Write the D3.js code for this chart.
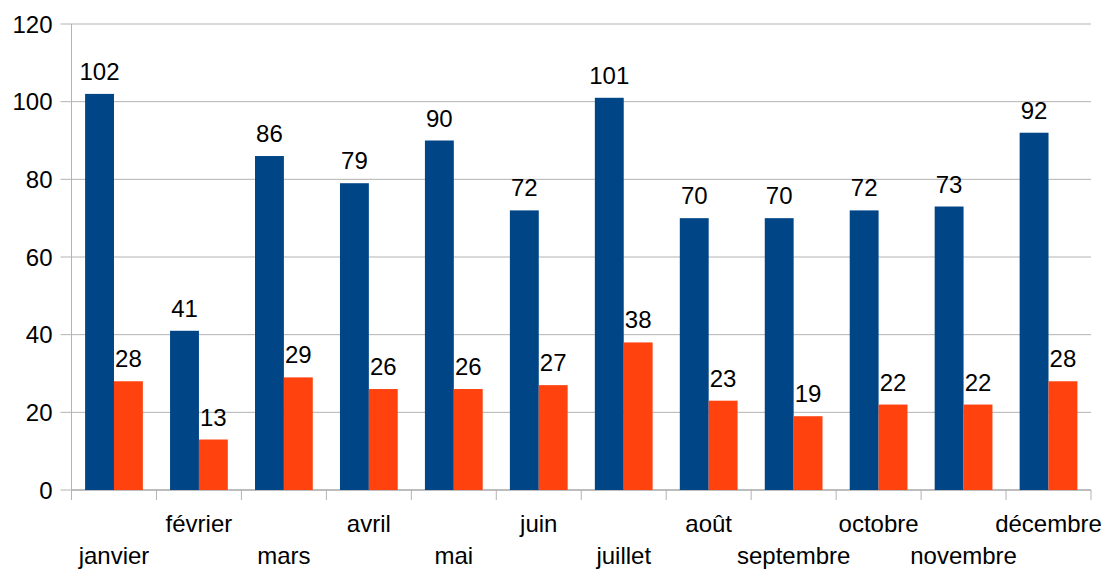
<!DOCTYPE html>
<html>
<head>
<meta charset="utf-8">
<script src="https://cdn.jsdelivr.net/npm/d3@7"></script>
<style>
body { margin: 0; background: #fff; }
svg { font-family: "Liberation Sans", Arial, sans-serif; }
</style>
</head>
<body>
<svg width="1108" height="569"></svg>
<script>
// Data
var months = ["janvier", "février", "mars", "avril", "mai", "juin", "juillet", "août", "septembre", "octobre", "novembre", "décembre"]
var seriesA = [102, 41, 86, 79, 90, 72, 101, 70, 70, 72, 73, 92]
var seriesB = [28, 13, 29, 26, 26, 27, 38, 23, 19, 22, 22, 28]
var yTicks = [0, 20, 40, 60, 80, 100, 120]
var colors = ["#004586", "#ff420e"]

var svg = d3.select("svg"),
	margin = { top: 24, right: 17, bottom: 79, left: 71.5 },
	width = +svg.attr("width") - margin.left - margin.right,
	height = +svg.attr("height") - margin.top - margin.bottom

var x = d3.scaleBand().domain(months).range([0, width]).paddingInner(0.32).paddingOuter(0.16),
	y = d3.scaleLinear().domain([0, 120]).range([height, 0])

var fontSize = 24

var g = svg.append("g")
	.attr("transform", "translate(" + margin.left + "," + margin.top + ")")

// horizontal grid lines
g.append("g")
	.selectAll("line")
	.data(yTicks)
	.enter().append("line")
		.attr("x1", -11)
		.attr("x2", width)
		.attr("y1", function(d) { return y(d) })
		.attr("y2", function(d) { return y(d) })
		.attr("stroke", "#b3b3b3")
		.attr("stroke-width", 1)

// y axis labels
g.append("g")
	.selectAll("text")
	.data(yTicks)
	.enter().append("text")
		.attr("x", -19)
		.attr("y", function(d) { return y(d) })
		.attr("dy", "0.36em")
		.attr("text-anchor", "end")
		.attr("font-size", fontSize)
		.attr("fill", "#000")
		.text(function(d) { return d })

// vertical axis line
g.append("line")
	.attr("x1", 0).attr("x2", 0)
	.attr("y1", 0).attr("y2", height + 10)
	.attr("stroke", "#b3b3b3")

// category separators on the x axis
g.append("g")
	.selectAll("line")
	.data(d3.range(months.length + 1))
	.enter().append("line")
		.attr("x1", function(i) { return i * width / months.length })
		.attr("x2", function(i) { return i * width / months.length })
		.attr("y1", height)
		.attr("y2", height + 10)
		.attr("stroke", "#b3b3b3")

g.append("line")
	.attr("x1", 0).attr("x2", width)
	.attr("y1", height).attr("y2", height)
	.attr("stroke", "#b3b3b3")
	.attr("stroke-width", 1.5)

var sub = d3.scaleBand().domain([0, 1]).range([0, x.bandwidth()])

var rows = months.map(function(m, i) { return { month: m, values: [seriesA[i], seriesB[i]] } })

var groups = g.selectAll(".grp")
	.data(rows)
	.enter().append("g")
		.attr("class", "grp")
		.attr("transform", function(d) { return "translate(" + x(d.month) + ",0)" })

groups.selectAll("rect")
	.data(function(d) { return d.values })
	.enter().append("rect")
		.attr("x", function(d, i) { return sub(i) })
		.attr("y", function(d) { return y(d) })
		.attr("width", sub.bandwidth())
		.attr("height", function(d) { return height - y(d) })
		.attr("fill", function(d, i) { return colors[i] })

groups.selectAll("text")
	.data(function(d) { return d.values })
	.enter().append("text")
		.attr("x", function(d, i) { return sub(i) + sub.bandwidth() / 2 })
		.attr("y", function(d) { return y(d) - 14 })
		.attr("text-anchor", "middle")
		.attr("font-size", fontSize)
		.attr("fill", "#000")
		.text(function(d) { return d })

// staggered month labels
g.append("g")
	.selectAll("text")
	.data(months)
	.enter().append("text")
		.attr("x", function(d) { return x(d) + x.bandwidth() / 2 })
		.attr("y", function(d, i) { return height + (i % 2 === 0 ? 74 : 42) })
		.attr("text-anchor", "middle")
		.attr("font-size", fontSize)
		.attr("fill", "#000")
		.text(function(d) { return d })
</script>
</body>
</html>
